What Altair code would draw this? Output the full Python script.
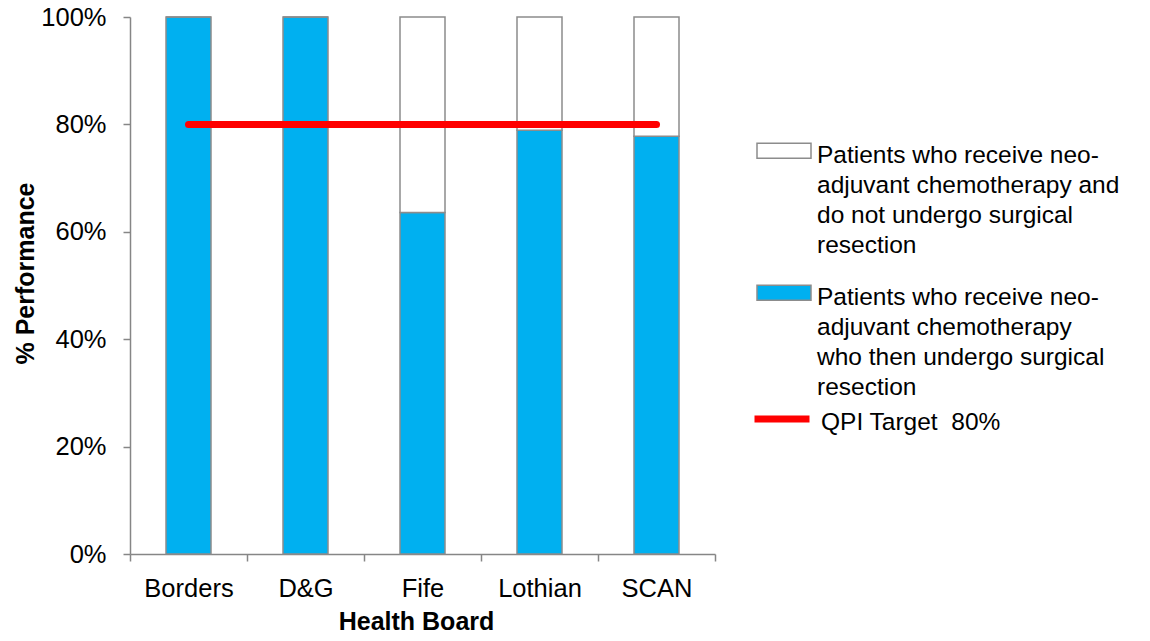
import altair as alt
import pandas as pd

# ---- data ----
boards = ["Borders", "D&G", "Fife", "Lothian", "SCAN"]
undergo = [1.0, 1.0, 0.636, 0.789, 0.778]   # share who then undergo surgical resection
target = [0.8, 0.8, 0.8, 0.8, 0.8]          # QPI target

not_label_lines = ["Patients who receive neo-", "adjuvant chemotherapy and",
                   "do not undergo surgical", "resection"]
yes_label_lines = ["Patients who receive neo-", "adjuvant chemotherapy",
                   "who then undergo surgical", "resection"]
target_label = "QPI Target\u00a0 80%"
y_ticks = [0, 0.2, 0.4, 0.6, 0.8, 1.0]

SEP = "|"
not_label = SEP.join(not_label_lines)
yes_label = SEP.join(yes_label_lines)

rows = []
for b, v in zip(boards, undergo):
    rows.append({"board": b, "group": yes_label, "value": v, "ord": 0})
    rows.append({"board": b, "group": not_label, "value": round(1 - v, 3), "ord": 1})
bars_df = pd.DataFrame(rows)
line_df = pd.DataFrame({"board": boards, "target": target, "series": [target_label] * len(boards)})

FONT = "Liberation Sans"
AX = "#868686"

x_enc = alt.X(
    "board:N", sort=boards,
    scale=alt.Scale(paddingInner=0, paddingOuter=0),
    axis=alt.Axis(
        title="Health Board", tickBand="extent", labelAngle=0,
        labelFontSize=25.5, labelPadding=15, labelFont=FONT, labelColor="black",
        titleFont=FONT, titleFontSize=25, titleFontWeight="bold", titleColor="black",
        titleX=286, titleY=75, titleBaseline="alphabetic", titleAlign="center",
    ),
)

bars = alt.Chart(bars_df).mark_bar(size=45, stroke="#8c8c8c", strokeWidth=1.5).encode(
    x=x_enc,
    y=alt.Y(
        "value:Q", stack="zero",
        scale=alt.Scale(domain=[0, 1], nice=False),
        axis=alt.Axis(
            title="% Performance", values=y_ticks, format=".0%",
            labelFontSize=25.5, labelPadding=17, labelFont=FONT, labelColor="black",
            titleFont=FONT, titleFontSize=25, titleFontWeight="bold", titleColor="black",
            titleX=-97, titleY=256, titleBaseline="alphabetic", titleAngle=-90,
            titleAlign="center",
        ),
    ),
    fill=alt.Fill(
        "group:N",
        scale=alt.Scale(domain=[not_label, yes_label], range=["#FFFFFF", "#00B0F0"]),
        legend=alt.Legend(
            title=None, orient="none", legendX=626, legendY=99,
            symbolType="M-1,-0.03H1V0.53H-1Z", symbolSize=2916,
            symbolStrokeColor="#8c8c8c", symbolStrokeWidth=1.5, symbolOpacity=1,
            labelExpr="split(datum.label, '|')", labelBaseline="top",
            labelFontSize=24.5, labelFont=FONT, labelColor="black",
            labelLimit=500, labelOffset=5, rowPadding=-30, padding=0,
        ),
    ),
    order=alt.Order("ord:Q"),
)

line = alt.Chart(line_df).mark_line(strokeWidth=7, strokeCap="round").encode(
    x=alt.X("board:N", sort=boards),
    y=alt.Y("target:Q"),
    stroke=alt.Stroke(
        "series:N",
        scale=alt.Scale(domain=[target_label], range=["#FF0000"]),
        legend=alt.Legend(
            title=None, orient="none", legendX=621, legendY=363,
            symbolType="M-1,0.29H1", symbolSize=3025, symbolStrokeWidth=7,
            labelBaseline="top", labelFontSize=24.5, labelFont=FONT, labelColor="black",
            labelLimit=500, labelOffset=8, padding=0,
        ),
    ),
)

chart = (
    alt.layer(bars, line)
    .properties(
        width=585, height=537,
        padding={"left": 130, "top": 17, "right": 435, "bottom": 87},
        autosize=alt.AutoSizeParams(type="none"),
        background="white",
    )
    .configure(style={"guide-label": {"lineHeight": 30}})
    .configure_view(stroke=None)
    .configure_axis(
        grid=False, domainColor=AX, tickColor=AX, domainWidth=1.5, tickWidth=1.5, tickSize=7,
    )
)

chart.save("out.html", embed_options={"renderer": "svg", "actions": False})
